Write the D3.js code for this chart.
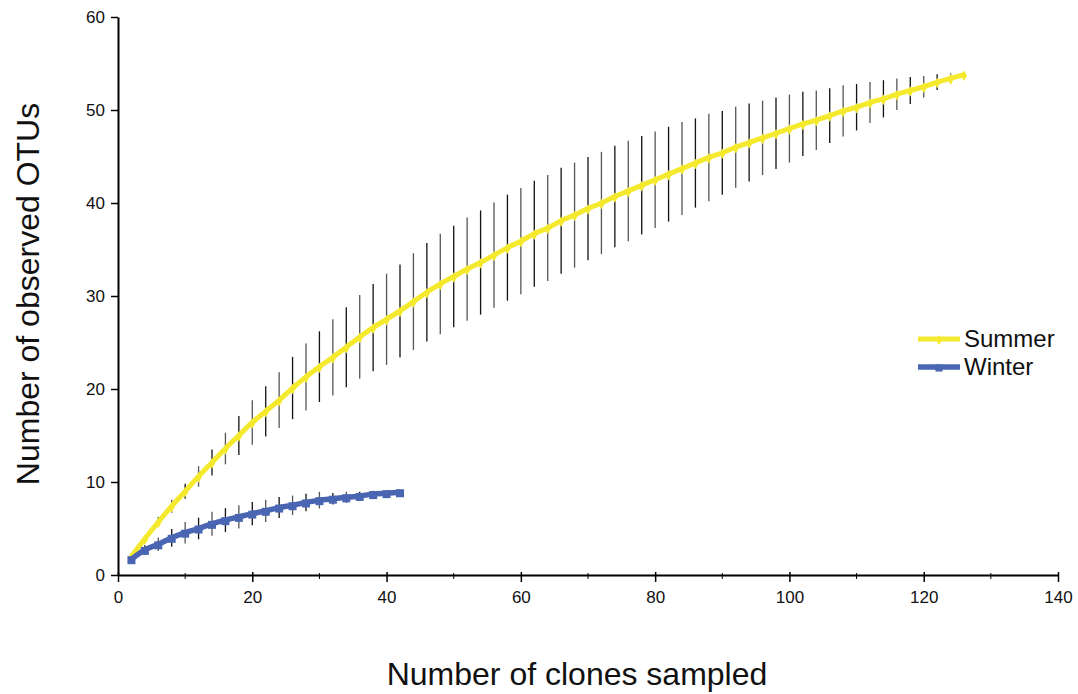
<!DOCTYPE html>
<html>
<head>
<meta charset="utf-8">
<script src="https://cdn.jsdelivr.net/npm/d3@7"></script>
<style>
  body { margin: 0; background: #fff; }
  text { font-family: "Liberation Sans", Arial, Helvetica, sans-serif; fill: #111; }
</style>
</head>
<body>
<div id="chart"></div>
<script>
// Clones sampled (x) and mean observed OTUs with error half-widths
const summerClones = d3.range(2, 127, 2);
const summerOTUs = [
  2.0, 3.9, 5.7, 7.4, 9.0, 10.6, 12.1, 13.6, 15.0, 16.4,
  17.6, 18.8, 20.1, 21.3, 22.4, 23.4, 24.5, 25.6, 26.6, 27.5, 28.4, 29.4, 30.4, 31.3,
  32.1, 32.9, 33.6, 34.4, 35.2, 35.9, 36.7, 37.3, 38.1, 38.7, 39.4, 40.0, 40.7, 41.3, 41.9, 42.5,
  43.1, 43.7, 44.3, 44.9, 45.4, 46.0, 46.5, 47.0, 47.5, 48.0, 48.5, 48.9, 49.4, 49.9, 50.3,
  50.8, 51.2, 51.7, 52.1, 52.5, 53.0, 53.4, 53.8
];
const summerErr = [
  0.1, 0.3, 0.5, 0.7, 0.8, 1.1, 1.4, 1.7, 2.1, 2.4,
  2.7, 3.0, 3.35, 3.6, 3.8, 4.1, 4.3, 4.5, 4.7, 4.9, 5.0, 5.2, 5.3, 5.4,
  5.45, 5.55, 5.6, 5.65, 5.7, 5.7, 5.7, 5.7, 5.7, 5.65, 5.55, 5.5, 5.45, 5.4, 5.3, 5.2,
  5.1, 5.0, 4.8, 4.7, 4.5, 4.35, 4.2, 4.0, 3.85, 3.65, 3.45, 3.2, 2.95, 2.75, 2.5,
  2.2, 2.0, 1.7, 1.45, 1.15, 0.85, 0.55, 0
];

const winterClones = d3.range(2, 43, 2);
const winterOTUs = [
  1.7, 2.7, 3.3, 4.0, 4.55, 5.0, 5.5, 5.9, 6.25, 6.6, 6.9,
  7.25, 7.5, 7.8, 8.05, 8.2, 8.35, 8.5, 8.7, 8.8, 8.9
];
const winterErr = [
  0, 0.5, 0.73, 0.95, 1.16, 1.16, 1.29, 1.29, 1.25, 1.25, 1.2,
  1.13, 1.04, 0.95, 0.9, 0.63, 0.6, 0.45, 0.36, 0.2, 0
];

const xTicks = d3.range(0, 141, 20);
const xMinorTicks = d3.range(10, 141, 20);
const yTicks = d3.range(0, 61, 10);

const width = 1078, height = 694;
const margin = { top: 17, right: 20, bottom: 119, left: 118 };

const svg = d3.select("#chart")
  .append("svg")
  .attr("width", width)
  .attr("height", height);

const x = d3.scaleLinear().domain([0, 140]).range([margin.left, 1058]);
const y = d3.scaleLinear().domain([0, 60]).range([height - margin.bottom, margin.top]);

// build series rows
const summer = summerClones.map((c, i) => ({ c: c, v: summerOTUs[i], e: summerErr[i] }));
const winter = winterClones.map((c, i) => ({ c: c, v: winterOTUs[i], e: winterErr[i] }));

const yellow = "#f4e92c";
const blue = "#4a66b3";

// error bars (drawn under the lines)
function errorBars(data) {
  svg.append("g")
    .selectAll("line")
    .data(data.filter(d => d.e > 0))
    .enter()
    .append("line")
    .attr("x1", d => x(d.c))
    .attr("x2", d => x(d.c))
    .attr("y1", d => y(d.v + d.e))
    .attr("y2", d => y(d.v - d.e))
    .attr("stroke", (d, i) => i % 2 ? "#555" : "#111")
    .attr("stroke-width", 1.3);
}
errorBars(summer);
errorBars(winter);

const line = d3.line()
  .x(d => x(d.c))
  .y(d => y(d.v))
  .curve(d3.curveMonotoneX);

// summer line + small diamond markers
svg.append("path")
  .datum(summer)
  .attr("fill", "none")
  .attr("stroke", yellow)
  .attr("stroke-width", 5)
  .attr("stroke-linejoin", "round")
  .attr("d", line);

svg.append("g")
  .selectAll("path")
  .data(summer)
  .enter()
  .append("path")
  .attr("d", d3.symbol().type(d3.symbolDiamond).size(32))
  .attr("transform", d => `translate(${x(d.c)},${y(d.v) + 1})`)
  .attr("fill", yellow);

// winter line + square markers
svg.append("path")
  .datum(winter)
  .attr("fill", "none")
  .attr("stroke", blue)
  .attr("stroke-width", 5.5)
  .attr("stroke-linejoin", "round")
  .attr("d", line);

svg.append("g")
  .selectAll("rect")
  .data(winter)
  .enter()
  .append("rect")
  .attr("x", d => x(d.c) - 4)
  .attr("y", d => y(d.v) - 3)
  .attr("width", 8)
  .attr("height", 8)
  .attr("fill", blue);

// axes
const xAxis = svg.append("g")
  .attr("transform", `translate(0,${y(0)})`)
  .call(d3.axisBottom(x).tickValues(xTicks).tickSize(7).tickPadding(9).tickSizeOuter(0));
xAxis.selectAll(".tick line").attr("y1", -3);

xAxis.selectAll(".minor")
  .data(xMinorTicks)
  .enter()
  .append("line")
  .attr("class", "minor")
  .attr("x1", d => x(d))
  .attr("x2", d => x(d))
  .attr("y1", -2)
  .attr("y2", 4)
  .attr("stroke", "#000");

const yAxis = svg.append("g")
  .attr("transform", `translate(${x(0)},0)`)
  .call(d3.axisLeft(y).tickValues(yTicks).tickSize(7).tickPadding(6).tickSizeOuter(0));

[xAxis, yAxis].forEach(g => {
  g.select(".domain").attr("stroke", "#000").attr("stroke-width", 2);
  g.selectAll(".tick line").attr("stroke", "#000").attr("stroke-width", 1.5);
  g.selectAll(".tick text")
    .style("font-family", "'Liberation Sans', Arial, sans-serif")
    .style("font-size", "17px")
    .attr("fill", "#111");
});

// axis titles
svg.append("text")
  .attr("x", 577)
  .attr("y", 685)
  .attr("text-anchor", "middle")
  .style("font-size", "32px")
  .text("Number of clones sampled");

svg.append("text")
  .attr("transform", `translate(39,${294}) rotate(-90)`)
  .attr("text-anchor", "middle")
  .style("font-size", "32px")
  .text("Number of observed OTUs");

// legend
const legendItems = [
  { name: "Summer", color: yellow, width: 5, marker: "diamond" },
  { name: "Winter", color: blue, width: 5.5, marker: "square" }
];
const legend = svg.selectAll(".legend")
  .data(legendItems)
  .enter()
  .append("g")
  .attr("class", "legend")
  .attr("transform", (d, i) => `translate(918,${339 + i * 28})`);

legend.append("line")
  .attr("x1", 0)
  .attr("x2", 42)
  .attr("stroke", d => d.color)
  .attr("stroke-width", d => d.width);

legend.append("path")
  .attr("d", d => d.marker === "square"
    ? d3.symbol().type(d3.symbolSquare).size(50)()
    : d3.symbol().type(d3.symbolDiamond).size(30)())
  .attr("transform", "translate(21,1)")
  .attr("fill", d => d.color);

legend.append("text")
  .attr("x", 46)
  .attr("y", 8)
  .style("font-size", "24px")
  .text(d => d.name);
</script>
</body>
</html>
